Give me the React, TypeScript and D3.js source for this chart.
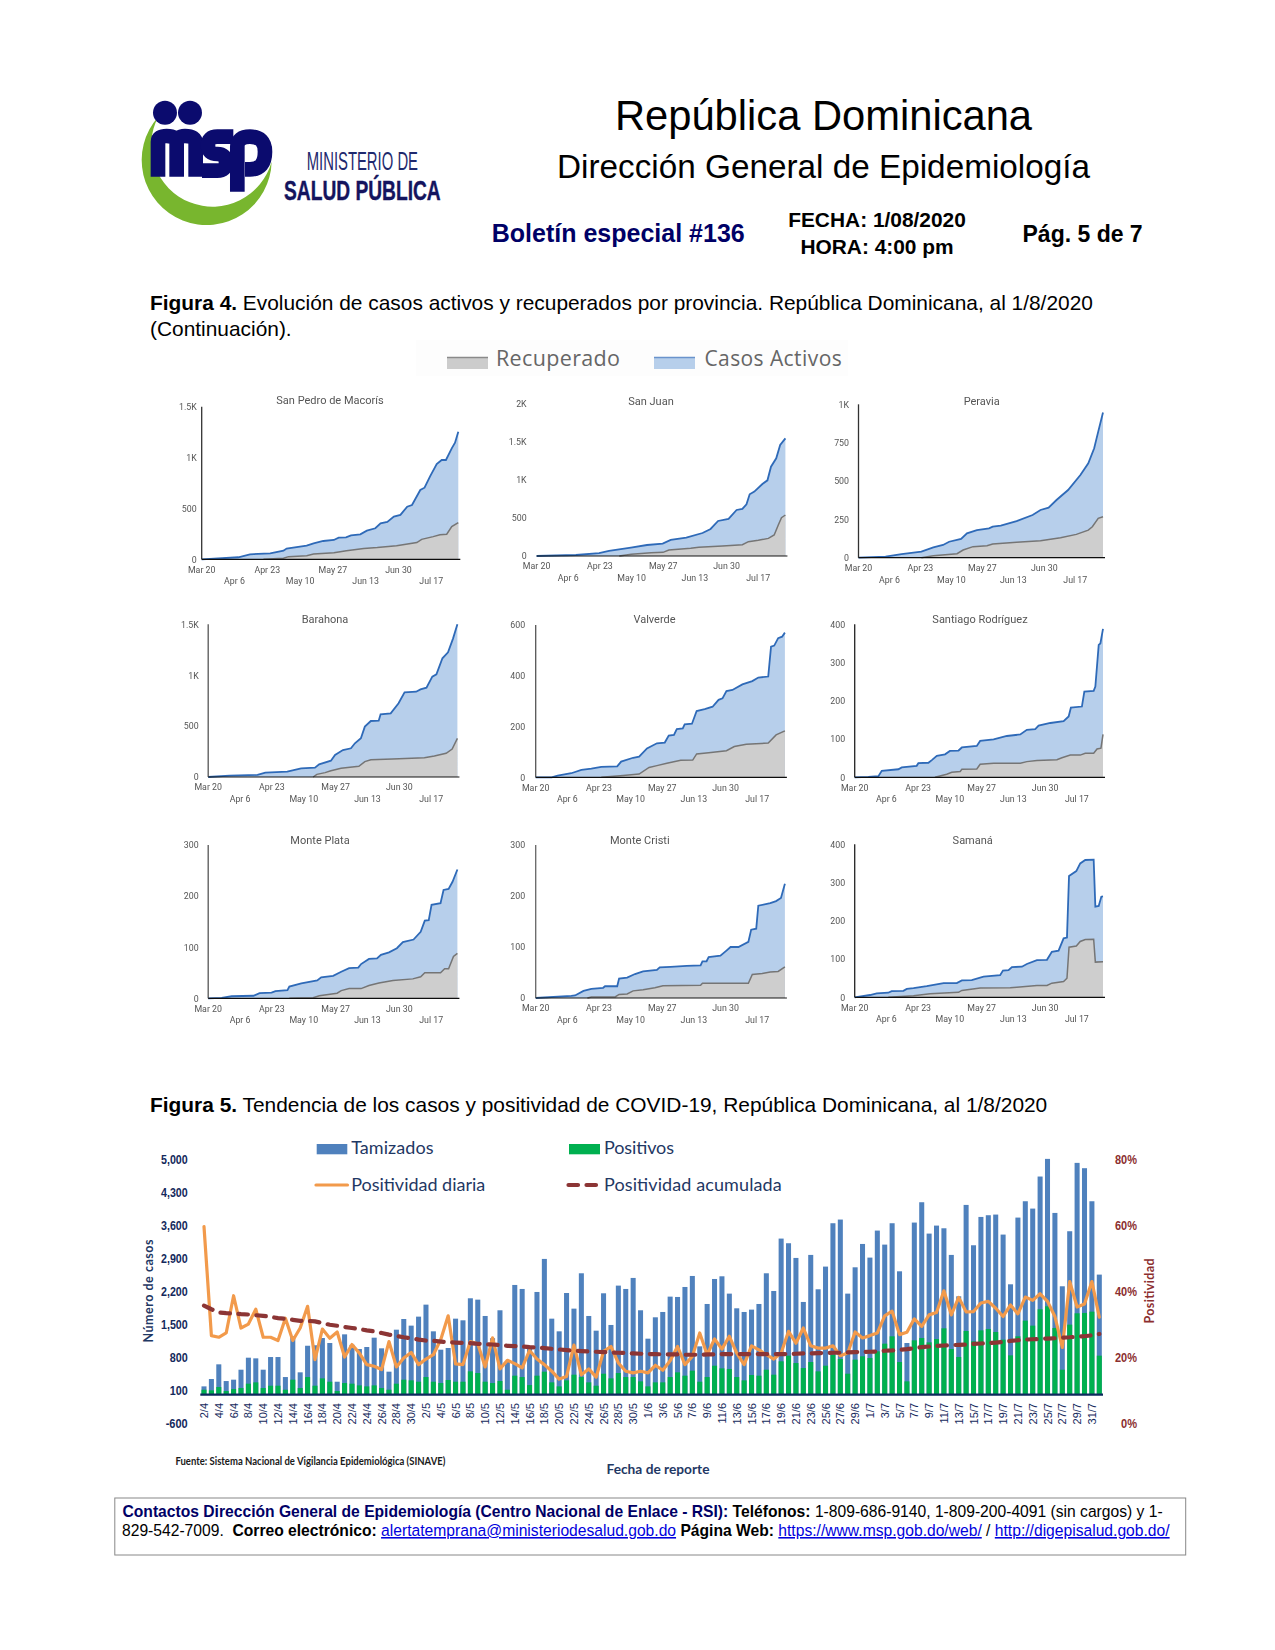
import React from "react";
import * as d3 from "d3";

type P = number[][];

// ---------- Figura 4: [day since Mar 20, value]
const sanPedroActivos: P = [[0,0],[19,20],[25,49],[35.5,59],[42.4,85],[44,105],[54.4,134],[58,157],[63,180],[68.5,190],[71,213],[74.8,216],[77.4,236],[82.2,246],[85.6,282],[90,305],[92.7,354],[96.2,367],[99.6,419],[103,436],[106.5,517],[109,534],[113.3,681],[115.5,704],[118.3,812],[121.8,937],[124.4,976],[126.6,976],[129.6,1091],[131.3,1146],[133,1254]];
const sanPedroRecuperado: P = [[32,0],[42.4,10],[45,26],[54.4,36],[58,52],[68.5,65],[75,85],[84,105],[91,115],[101,134],[111.5,164],[114,196],[120,223],[123.5,242],[127,246],[129.6,321],[133,360]];
const sanJuanActivos: P = [[0,0],[21,13],[33.4,39],[38.7,66],[50.4,109],[59,144],[67.4,162],[71.7,210],[80,240],[88.7,301],[93,354],[97,459],[102.6,485],[106.9,603],[110,616],[112.2,677],[113.9,808],[116.4,843],[120.7,943],[123.4,991],[125.3,1170],[128.1,1280],[130.2,1454],[133,1541]];
const sanJuanRecuperado: P = [[44.2,0],[50.6,22],[61.2,44],[67.6,48],[70.7,79],[82.4,100],[86.7,114],[99.4,131],[110,148],[113.2,188],[118.5,205],[123.9,231],[127,275],[129.2,406],[130.9,502],[133,537]];
const peraviaActivos: P = [[0,0],[14.7,7],[23.4,24],[34.2,39],[40.7,67],[46,83],[49.3,104],[55.8,122],[59,159],[64.4,180],[71,191],[73,202],[77.4,209],[86,239],[94.7,278],[99,311],[103.4,326],[107.7,376],[114,441],[120.7,539],[125,615],[128.2,713],[130.4,822],[133,946]];
const peraviaRecuperado: P = [[34.2,0],[40.7,13],[53.6,26],[56.9,50],[62.3,72],[69.9,78],[73,89],[86,100],[99,111],[109.9,130],[118.5,152],[125,180],[127.2,202],[130.4,257],[133,267]];
const barahonaActivos: P = [[0,0],[11.5,13],[26.3,20],[30.5,43],[42.2,52],[49.6,85],[57,92],[59.2,124],[65.5,160],[67.7,216],[71.9,265],[76.2,282],[78.3,331],[81.5,380],[83.6,495],[86.8,550],[91,553],[92,616],[97.4,626],[101.6,724],[104.8,832],[111,838],[113.3,861],[116.5,878],[119.6,986],[121.8,1009],[125,1166],[128,1225],[130.7,1362],[133,1500]];
const barahonaRecuperado: P = [[56,0],[58,26],[62.4,43],[65.5,62],[70.9,85],[80.4,105],[83.6,151],[86.8,170],[98.4,177],[115.4,190],[120.7,206],[127,233],[130.2,275],[133,380]];
const valverdeActivos: P = [[8.5,0],[11.7,7],[19,16],[24.4,29],[29.7,34],[35,41],[43.5,43],[45.6,62],[52,77],[55.2,81],[59.4,114],[64.7,134],[68.9,137],[71,164],[73.8,167],[75.3,190],[78.5,193],[79.5,209],[83.4,211],[85.9,261],[90.2,269],[94.4,278],[97.6,305],[99.7,311],[101.8,340],[105,344],[110.3,366],[115.6,379],[118.8,393],[124.1,397],[125.6,515],[127.3,519],[129.4,548],[131.5,554],[133,570]];
const valverdeRecuperado: P = [[35,0],[46.7,7],[55.2,13],[60.5,39],[64.7,46],[70,55],[77.4,67],[83.8,68],[85.9,92],[92.3,97],[101.8,105],[106,121],[112.4,130],[124.1,135],[128.3,167],[133,183]];
const santiagoActivos: P = [[0,0],[7.3,1],[12.7,3],[14.5,17],[23.4,21],[25.2,26],[33.2,30],[34.1,37],[39.5,38],[41.3,45],[44,56],[48.4,60],[51,69],[55.6,70],[57.4,78],[65.4,82],[67.2,95],[74.4,99],[81.5,108],[88.7,112],[92.2,124],[96.7,126],[98.5,135],[104.8,142],[111.9,147],[114.6,159],[115.8,182],[121.7,185],[123,224],[128,226],[128.9,237],[130.7,346],[131.6,350],[133,388]];
const santiagoRecuperado: P = [[43,0],[49.3,8],[52,13],[56.5,15],[57.4,21],[65.4,22],[67.2,34],[74.4,37],[88.7,37],[92.2,41],[97.6,44],[108.3,46],[111,51],[115.5,58],[120.8,58],[123.5,63],[128,63],[129.8,74],[131.9,76],[133,112]];
const montePlataActivos: P = [[0,0],[7.2,1],[12.5,4],[24.2,5],[27.4,10],[33.8,11],[35.9,14],[42.3,16],[43.3,23],[49.7,29],[58.2,35],[60.3,41],[66.7,44],[71,52],[75.2,59],[80.1,60],[81.6,67],[85.8,77],[90.1,78],[92.2,85],[96.5,90],[100.7,98],[103.9,110],[109.6,115],[113.4,130],[115.6,152],[117.7,153],[119.2,183],[124,186],[125.6,212],[128.3,214],[130.4,228],[133,252]];
const montePlataRecuperado: P = [[43.3,0],[56,1],[59.3,5],[68.8,10],[71,15],[75.2,19],[81.6,19],[85.8,25],[91.1,30],[98.6,35],[109.2,38],[113.4,42],[115.6,50],[124,50],[126.2,58],[128.3,58],[130.9,82],[133,88]];
const monteCristiActivos: P = [[0,0],[19,4],[21,5],[25.5,14],[29.7,18],[36,20],[37,23],[43.5,23],[44.5,38],[48.8,40],[53,47],[57.3,52],[64.7,55],[66.2,60],[72,61],[80.6,63],[88,64],[89,72],[91.2,72],[92.3,80],[98.6,83],[101.8,93],[104,100],[108.2,100],[113.5,110],[115,134],[117.7,136],[118.8,181],[125.2,186],[128.3,190],[130.9,196],[133,224]];
const monteCristiRecuperado: P = [[27.6,0],[29.7,2],[42.4,2],[44.5,7],[48.8,8],[52,14],[57.3,16],[63.6,20],[67.9,24],[88,25],[89,29],[113.5,29],[115.6,46],[120.9,48],[125.2,51],[129.4,52],[133,61]];
const samanaActivos: P = [[0,0],[8.2,6],[11.8,10],[18,12],[19.8,16],[26.1,17],[27.9,22],[31.5,24],[38.6,29],[47.6,37],[54.7,37],[57.4,44],[62.7,45],[69,54],[77.9,58],[79.4,70],[82.4,71],[84.2,79],[89.6,80],[92.2,87],[97.6,97],[103,98],[105.6,119],[109.2,122],[111.9,154],[113.7,156],[114.8,317],[118.7,330],[120.8,350],[123.5,359],[128,360],[128.9,237],[130.7,239],[132.1,263],[133,264]];
const samanaRecuperado: P = [[18,0],[31.5,4],[40.4,9],[55.6,13],[57.4,18],[67.2,24],[83.3,25],[97.6,31],[103,31],[105.6,37],[111.9,41],[113.7,50],[114.8,131],[118.7,134],[120.8,146],[123.5,151],[128,152],[128.9,92],[133,93]];

const fechasPanel = ["Mar 20","Apr 6","Apr 23","May 10","May 27","Jun 13","Jun 30","Jul 17"];
const diasPanel = [0,17,34,51,68,85,102,119];

const paneles = [
  { t:"San Pedro de Macorís", a:sanPedroActivos, r:sanPedroRecuperado, max:1500, ticks:[[0,"0"],[500,"500"],[1000,"1K"],[1500,"1.5K"]], box:[201.7,458.3,406.7,559.3], tx:330, ty:401, gap:5, lx:0, ax:"#333" },
  { t:"San Juan", a:sanJuanActivos, r:sanJuanRecuperado, max:2000, ticks:[[0,"0"],[500,"500"],[1000,"1K"],[1500,"1.5K"],[2000,"2K"]], box:[536.6,785.4,403.3,556], tx:651, ty:402.5, gap:10, lx:-1, ax:"none" },
  { t:"Peravia", a:peraviaActivos, r:peraviaRecuperado, max:1000, ticks:[[0,"0"],[250,"250"],[500,"500"],[750,"750"],[1000,"1K"]], box:[858.5,1103,404.3,557.7], tx:981.7, ty:402, gap:9.5, lx:-2, ax:"#333" },
  { t:"Barahona", a:barahonaActivos, r:barahonaRecuperado, max:1500, ticks:[[0,"0"],[500,"500"],[1000,"1K"],[1500,"1.5K"]], box:[208.2,457.4,624.3,777], tx:325, ty:620, gap:9.5, lx:0, ax:"#555" },
  { t:"Valverde", a:valverdeActivos, r:valverdeRecuperado, max:600, ticks:[[0,"0"],[200,"200"],[400,"400"],[600,"600"]], box:[535.7,784.9,625,777.3], tx:654.5, ty:620, gap:10.5, lx:-1.5, ax:"#555" },
  { t:"Santiago Rodríguez", a:santiagoActivos, r:santiagoRecuperado, max:400, ticks:[[0,"0"],[100,"100"],[200,"200"],[300,"300"],[400,"400"]], box:[854.7,1103,624.3,777.3], tx:980, ty:620, gap:9.5, lx:0, ax:"#222" },
  { t:"Monte Plata", a:montePlataActivos, r:montePlataRecuperado, max:300, ticks:[[0,"0"],[100,"100"],[200,"200"],[300,"300"]], box:[208.2,457.4,845,998.3], tx:320, ty:841, gap:9.5, lx:0, ax:"#555" },
  { t:"Monte Cristi", a:monteCristiActivos, r:monteCristiRecuperado, max:300, ticks:[[0,"0"],[100,"100"],[200,"200"],[300,"300"]], box:[535.7,784.9,845,998], tx:639.8, ty:841, gap:10.5, lx:-1.5, ax:"#666" },
  { t:"Samaná", a:samanaActivos, r:samanaRecuperado, max:400, ticks:[[0,"0"],[100,"100"],[200,"200"],[300,"300"],[400,"400"]], box:[854.7,1103,844.3,997.3], tx:972.7, ty:841, gap:9.5, lx:0, ax:"#222" },
];

// ---------- Figura 5
const tamizados = [177,333,645,290,319,531,786,772,531,800,800,375,1240,475,1040,1050,1204,1098,276,1282,1060,970,1013,1211,985,489,1381,1608,1467,1658,1913,1346,956,992,1615,1580,2048,2019,1672,1200,1793,700,2331,2246,1000,2182,2884,1615,1346,2160,1828,2579,1672,1360,2154,1481,2317,2246,2480,1793,1190,1644,1757,2083,2076,2288,2522,1027,1927,2458,2515,2147,1835,1757,1807,1927,2579,2203,3316,3217,2905,1970,2969,2239,2721,3642,3720,2147,2706,3202,2912,3486,3188,3642,2621,1098,3656,4088,3422,3592,3535,2969,2090,4031,3174,3776,3812,3826,3401,2345,3762,4109,3953,4634,5009,3861,2303,3472,4924,4811,4109,2551];
const positivos = [106,92,163,78,120,142,234,262,142,191,191,106,319,142,375,191,347,276,78,248,234,198,177,198,142,106,234,319,305,276,375,276,248,312,276,276,496,460,276,248,290,106,404,375,205,404,489,262,177,305,425,375,262,191,446,347,460,375,375,283,177,262,262,375,475,404,510,276,375,616,560,546,375,305,418,404,531,425,709,829,673,567,694,496,616,850,758,446,744,815,779,921,1084,1240,694,283,1155,1204,1112,1183,1410,971,801,1353,1134,1367,1396,1332,1169,836,1240,1573,1467,1814,1878,1417,531,1488,1729,1736,1764,829];
const positividadDiaria = [59.6,26.5,26,27.3,38.6,28.8,30,34.5,26,26,25,31.8,25,28.8,35.4,19.2,28.5,25.7,27.6,20,23.8,21.2,17.7,17.2,16.2,24.7,17,19.7,21.4,17.7,19.4,20.7,25.3,32.5,17.9,17.7,24.7,24,17,25.8,16.4,19,18,16.7,22,19.4,17.7,15.7,13.3,14.1,23.6,14.6,16.4,13.9,21.7,23.2,18.2,15.7,15.2,15.7,15.2,17.5,16,18.9,23.2,17.7,20.2,27.3,20.7,25.5,22.4,26.3,21.2,17.7,23.4,22.2,20.7,19.4,21.2,27.8,24.2,28.8,23.4,22.7,22.7,23.4,20.4,21.2,27.6,25.8,26.5,27.3,32.5,33.9,26.8,27.5,31.6,29.3,32.8,33.5,40.1,32.8,38.1,33.7,33.8,36.4,36.9,34.8,32.3,35.8,33.1,38.2,37.2,39.2,36.9,32.3,22.9,42.9,35.2,36.1,42.9,32.1];
const positividadAcumulada = [35.6,34.5,33.5,33.3,33.2,33,32.9,32.7,32.5,32.2,31.8,31.6,31.3,31,31,30.8,30.3,29.8,29.5,29.1,28.8,28.5,28.1,27.8,27.3,26.8,26.4,26,25.7,25.3,25,24.9,24.7,24.5,24.4,24.3,24.2,24,23.9,23.8,23.6,23.4,23.3,23.2,23,22.9,22.7,22.5,22.3,22.1,21.9,21.8,21.7,21.6,21.5,21.4,21.3,21.2,21.1,21,20.9,20.9,20.8,20.8,20.8,20.7,20.7,20.7,20.8,20.8,20.9,20.9,20.9,20.9,20.9,20.9,20.9,20.9,20.9,20.9,21,21.1,21.1,21.2,21.2,21.3,21.3,21.4,21.5,21.5,21.6,21.7,21.9,22,22.2,22.4,22.7,23,23.2,23.4,23.5,23.6,23.7,23.8,24,24.1,24.2,24.4,24.6,24.9,25.1,25.3,25.4,25.5,25.6,25.7,25.9,26,26.2,26.3,26.6,27];
const fechasBarras = ["2/4","4/4","6/4","8/4","10/4","12/4","14/4","16/4","18/4","20/4","22/4","24/4","26/4","28/4","30/4","2/5","4/5","6/5","8/5","10/5","12/5","14/5","16/5","18/5","20/5","22/5","24/5","26/5","28/5","30/5","1/6","3/6","5/6","7/6","9/6","11/6","13/6","15/6","17/6","19/6","21/6","23/6","25/6","27/6","29/6","1/7","3/7","5/7","7/7","9/7","11/7","13/7","15/7","17/7","19/7","21/7","23/7","25/7","27/7","29/7","31/7"];
const ticksCasos = [-600,100,800,1500,2200,2900,3600,4300,5000];
const ticksPositividad = [0,20,40,60,80];

const ARIAL = "'Liberation Sans', Arial, sans-serif";
const CAL = "Lato, sans-serif";
const NAVY = "#1f3864";
const MAROON = "#8c2f2f";
const LINK = "#0000dd";

// Condensed labels: width of a label as drawn in the document's narrow face
const narrowWidth = (s: string) => {
  let w = 0;
  for (const c of s) w += c === "," ? 2.7 : c === "-" ? 4 : c === "%" ? 10 : 6;
  return w;
};

function Panel({ p }: { p: (typeof paneles)[number] }) {
  const [x0, x1, yT, yB] = p.box;
  const x = d3.scaleLinear().domain([0, 133]).range([x0, x1]);
  const y = d3.scaleLinear().domain([0, p.max]).range([yB, yT]);
  const area = d3.area<number[]>().x(d => x(d[0])).y0(yB).y1(d => y(d[1]));
  const line = d3.line<number[]>().x(d => x(d[0])).y(d => y(d[1]));
  const activeLine = p.a[0][0] > 0 ? [[0, 0], ...p.a] : p.a;
  return (
    <g>
      <text x={p.tx} y={p.ty} textAnchor="middle" dominantBaseline="middle" fontFamily="Roboto" fontSize={11} fill="#555">{p.t}</text>
      <path d={area(p.a)!} fill="#b7cfeb" />
      <path d={area(p.r)!} fill="#cecece" />
      <path d={line(p.r)!} fill="none" stroke="#757575" strokeWidth={1.5} />
      <path d={line(activeLine)!} fill="none" stroke="#2f6ab8" strokeWidth={1.8} />
      {p.ax !== "none" && <line x1={x0} x2={x0} y1={yT} y2={yB} stroke={p.ax} strokeWidth={1.3} />}
      <line x1={x0} x2={x1 + 2} y1={yB} y2={yB} stroke="#111" strokeWidth={1.2} />
      {p.ticks.map(([v, l]) => (
        <text key={String(l)} x={x0 - p.gap} y={y(v as number) + 1} textAnchor="end" dominantBaseline="middle" fontFamily="Roboto" fontSize={8.8} fill="#555">{l}</text>
      ))}
      {fechasPanel.map((f, i) => (
        <text key={f} x={x(diasPanel[i]) + (p.lx * i) / 7} y={yB + (i % 2 ? 22.5 : 11)} textAnchor="middle" dominantBaseline="middle" fontFamily="Roboto" fontSize={8.8} fill="#555">{f}</text>
      ))}
    </g>
  );
}

function Logo() {
  return (
    <g transform="translate(130,80) scale(0.3333)">
      <path d="M85,110 A195,195 0 1,0 425,245 A184,184 0 1,1 85,110 Z" fill="#78b62e" />
      <circle cx={105} cy={98} r={36} fill="#0b0b6e" />
      <circle cx={180} cy={98} r={36} fill="#0b0b6e" />
      <g fill="none" stroke="#0b0b6e" strokeWidth={44} strokeLinejoin="round">
        <path d="M84,290 V185 Q84,168 110,168 Q140,168 140,190 V290 M140,190 Q140,168 165,168 Q197,168 197,190 V290" />
        <path d="M310,170 H262 Q234,170 234,196 Q234,222 262,222 Q288,222 288,248 Q288,272 262,272 H216" />
        <path d="M322,335 V200 Q322,170 360,170 Q405,170 405,215 Q405,268 360,268 H345" />
      </g>
    </g>
  );
}

export default function App() {
  const band = d3.scaleBand<number>().domain(d3.range(tamizados.length)).range([200.3, 1103]).paddingInner(0.32).paddingOuter(0.16);
  const cx = (i: number) => band(i)! + band.bandwidth() / 2;
  const yC = d3.scaleLinear().domain([0, 5000]).range([1394.7, 1159.3]);
  const yP = d3.scaleLinear().domain([0, 80]).range([yC(-600), yC(5000)]);
  const lineP = d3.line<number>().x((_, i) => cx(i)).y(d => yP(d));
  const blur = "url(#soft)";
  return (
    <svg width={1275} height={1650} viewBox="0 0 1275 1650" style={{ position: "absolute", left: 0, top: 0, display: "block", background: "#fff" }}>
      <defs>
        <filter id="soft" x="-2%" y="-2%" width="104%" height="104%"><feGaussianBlur stdDeviation={0.45} /></filter>
      </defs>

      {/* Encabezado */}
      <Logo />
      <text x={306.7} y={170} fontFamily="'Liberation Sans'" fontSize={25} fill="#1f2a6e" textLength={111.3} lengthAdjust="spacingAndGlyphs">MINISTERIO DE</text>
      <text x={284} y={200} fontFamily="'Liberation Sans'" fontWeight="bold" fontSize={27} fill="#14145e" stroke="#14145e" strokeWidth={0.4} textLength={156.7} lengthAdjust="spacingAndGlyphs">SALUD PÚBLICA</text>
      <g fontFamily={ARIAL}>
        <text x={823.5} y={130} textAnchor="middle" fontSize={41.7}>República Dominicana</text>
        <text x={823.5} y={177.7} textAnchor="middle" fontSize={33.3}>Dirección General de Epidemiología</text>
        <text x={491.8} y={242} fontSize={25} fontWeight="bold" fill="#000066">Boletín especial #136</text>
        <text x={877} y={226.7} textAnchor="middle" fontSize={20.9} fontWeight="bold">FECHA: 1/08/2020</text>
        <text x={877} y={254} textAnchor="middle" fontSize={20.9} fontWeight="bold">HORA: 4:00 pm</text>
        <text x={1022.5} y={241.7} fontSize={23} fontWeight="bold">Pág. 5 de 7</text>
        <text x={150} y={310} fontSize={20.9}><tspan fontWeight="bold">Figura 4.</tspan> Evolución de casos activos y recuperados por provincia. República Dominicana, al 1/8/2020</text>
        <text x={150} y={336} fontSize={20.9}>(Continuación).</text>
        <text x={150} y={1111.7} fontSize={20.9}><tspan fontWeight="bold">Figura 5.</tspan> Tendencia de los casos y positividad de COVID-19, República Dominicana, al 1/8/2020</text>
      </g>

      {/* Leyenda Figura 4 */}
      <rect x={416} y={340} width={432} height={36} fill="#fdfdfd" />
      <rect x={447} y={357} width={41} height={12} fill="#cccccc" />
      <line x1={447} x2={488} y1={357.5} y2={357.5} stroke="#8a8a8a" strokeWidth={1.5} />
      <text x={496} y={366} fontFamily="'Open Sans'" fontSize={21.5} fill="#666" textLength={124}>Recuperado</text>
      <rect x={654} y={357} width={41} height={12} fill="#b7cfeb" />
      <line x1={654} x2={695} y1={357.5} y2={357.5} stroke="#6a93cc" strokeWidth={1.5} />
      <text x={704.4} y={366} fontFamily="'Open Sans'" fontSize={21} fill="#666" textLength={137.3}>Casos Activos</text>

      <g filter={blur}>
        {paneles.map(p => <Panel key={p.t} p={p} />)}
      </g>

      {/* Figura 5 */}
      <g filter={blur}>
        {tamizados.map((v, i) => (
          <rect key={i} x={band(i)} y={yC(v)} width={band.bandwidth()} height={yC(0) - yC(v)} fill="#4f81bd" />
        ))}
        {positivos.map((v, i) => (
          <rect key={i} x={band(i)} y={yC(v)} width={band.bandwidth()} height={yC(0) - yC(v)} fill="#00b050" />
        ))}
      </g>
      <line x1={200.3} x2={1103} y1={yC(0)} y2={yC(0)} stroke="#0d2a5c" strokeWidth={2.2} />
      <path d={lineP(positividadDiaria)!} fill="none" stroke="#f29a4b" strokeWidth={3.2} strokeLinejoin="round" strokeLinecap="round" />
      <path d={lineP(positividadAcumulada)!} fill="none" stroke="#8c3535" strokeWidth={4.2} strokeDasharray="9.5 8.5" strokeLinecap="round" />

      {ticksCasos.map(t => {
        const s = d3.format(",")(t).replace("−", "-");
        return <text key={t} x={187.7} y={yC(t) + 1} textAnchor="end" dominantBaseline="middle" fontFamily={ARIAL} fontWeight="bold" fontSize={13.5} fill="#14295c" textLength={narrowWidth(s)} lengthAdjust="spacingAndGlyphs">{s}</text>;
      })}
      {ticksPositividad.map(t => {
        const s = `${t}%`;
        return <text key={t} x={1137} y={yP(t) + 1} textAnchor="end" dominantBaseline="middle" fontFamily={ARIAL} fontWeight="bold" fontSize={13.5} fill={MAROON} textLength={narrowWidth(s)} lengthAdjust="spacingAndGlyphs">{s}</text>;
      })}
      {fechasBarras.map((f, i) => (
        <text key={f} transform={`translate(${cx(i * 2) + 4},1403) rotate(-90)`} textAnchor="end" fontFamily={ARIAL} fontSize={11} fill="#14295c">{f}</text>
      ))}
      <text transform="translate(150,1291) rotate(-90)" textAnchor="middle" dominantBaseline="middle" fontFamily={CAL} fontWeight="bold" fontSize={12.5} fill={NAVY} textLength={103}>Número de casos</text>
      <text transform="translate(1151,1291) rotate(-90)" textAnchor="middle" dominantBaseline="middle" fontFamily={CAL} fontWeight="bold" fontSize={12.5} fill={MAROON} textLength={65}>Positividad</text>

      <rect x={316.7} y={1144} width={30.6} height={10.3} fill="#4f81bd" />
      <text x={351.2} y={1154.3} fontFamily={CAL} fontSize={18} fill={NAVY} textLength={82.3}>Tamizados</text>
      <rect x={569} y={1144} width={31} height={10.3} fill="#00b050" />
      <text x={604} y={1154.3} fontFamily={CAL} fontSize={18} fill={NAVY} textLength={70}>Positivos</text>
      <line x1={316} x2={347.5} y1={1185} y2={1185} stroke="#f29a4b" strokeWidth={3.2} strokeLinecap="round" />
      <text x={351.2} y={1190.7} fontFamily={CAL} fontSize={18} fill={NAVY} textLength={134}>Positividad diaria</text>
      <line x1={568.5} x2={600} y1={1185} y2={1185} stroke="#8c3535" strokeWidth={4.2} strokeDasharray="9.5 8.5" strokeLinecap="round" />
      <text x={604} y={1190.7} fontFamily={CAL} fontSize={18} fill={NAVY} textLength={177.7}>Positividad acumulada</text>

      <text x={175.4} y={1462} dominantBaseline="middle" fontFamily={CAL} fontWeight="bold" fontSize={10.5} fill="#1a1a1a" textLength={270} lengthAdjust="spacingAndGlyphs">Fuente: Sistema Nacional de Vigilancia Epidemiológica (SINAVE)</text>
      <text x={658} y={1471} textAnchor="middle" dominantBaseline="middle" fontFamily={CAL} fontWeight="bold" fontSize={13} fill={NAVY} textLength={103} lengthAdjust="spacingAndGlyphs">Fecha de reporte</text>

      {/* Contactos */}
      <rect x={114.8} y={1498} width={1070.9} height={57} fill="none" stroke="#888" strokeWidth={1} />
      <g fontFamily={ARIAL} fontSize={15.65}>
        <text x={122.5} y={1517}>
          <tspan fontWeight="bold" fill="#000066">Contactos Dirección General de Epidemiología (Centro Nacional de Enlace - RSI):</tspan>
          <tspan fontWeight="bold"> Teléfonos:</tspan>
          <tspan> 1-809-686-9140, 1-809-200-4091 (sin cargos) y 1-</tspan>
        </text>
        <text x={122} y={1536} xmlSpace="preserve">
          <tspan>829-542-7009.  </tspan>
          <tspan fontWeight="bold">Correo electrónico: </tspan>
          <tspan fill={LINK} textDecoration="underline">alertatemprana@ministeriodesalud.gob.do</tspan>
          <tspan fontWeight="bold"> Página Web: </tspan>
          <tspan fill={LINK} textDecoration="underline">https://www.msp.gob.do/web/</tspan>
          <tspan> / </tspan>
          <tspan fill={LINK} textDecoration="underline">http://digepisalud.gob.do/</tspan>
        </text>
      </g>
    </svg>
  );
}
